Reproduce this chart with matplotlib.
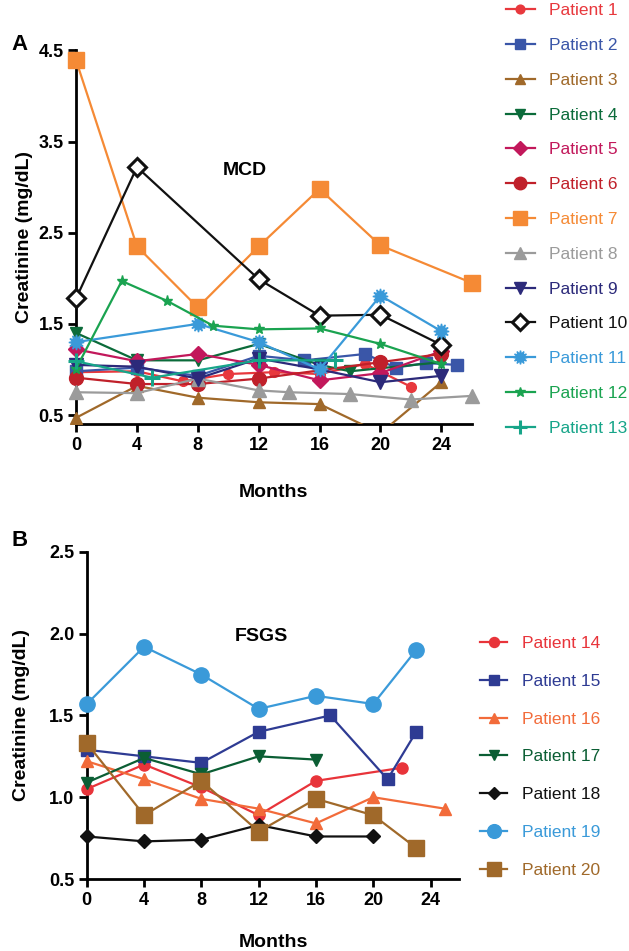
import numpy as np
import matplotlib
matplotlib.use('Agg')
import matplotlib.pyplot as plt
from matplotlib.patches import Rectangle

plt.rcParams['font.family'] = ['Liberation Sans', 'DejaVu Sans']

# ---- panel A (MCD) ----
mcd_names = ['Patient %d' % i for i in range(1, 14)]
mcd_x = [
    [0, 4, 7, 10, 13, 16, 19, 22],
    [0, 4, 8, 12, 15, 19, 21, 23, 25],
    [0, 4, 8, 12, 16, 20, 24],
    [0, 4, 8, 12, 16, 18, 24],
    [0, 4, 8, 12, 16, 20, 24],
    [0, 4, 8, 12, 20, 24],
    [0, 4, 8, 12, 16, 20, 26],
    [0, 4, 8, 12, 14, 18, 22, 26],
    [0, 4, 8, 12, 16, 20, 24],
    [0, 4, 12, 16, 20, 24],
    [0, 8, 12, 16, 20, 24],
    [0, 3, 6, 9, 12, 16, 20, 24],
    [0, 5, 12, 17],
]
mcd_y = [
    [0.97, 0.98, 0.87, 0.95, 0.97, 0.95, 1.06, 0.81],
    [0.98, 1.02, 0.93, 1.15, 1.10, 1.17, 1.02, 1.07, 1.05],
    [0.47, 0.82, 0.69, 0.64, 0.62, 0.30, 0.86],
    [1.40, 1.10, 1.10, 1.28, 1.05, 0.98, 1.08],
    [1.22, 1.09, 1.17, 1.05, 0.88, 0.96, 1.20],
    [0.91, 0.84, 0.84, 0.90, 1.08, 1.17],
    [4.39, 2.35, 1.68, 2.35, 2.98, 2.36, 1.95],
    [0.75, 0.74, 0.90, 0.77, 0.75, 0.73, 0.67, 0.71],
    [1.05, 1.03, 0.90, 1.12, 1.00, 0.86, 0.93],
    [1.78, 3.22, 1.99, 1.59, 1.60, 1.27],
    [1.30, 1.50, 1.30, 1.00, 1.81, 1.42],
    [1.01, 1.97, 1.75, 1.48, 1.44, 1.45, 1.28, 1.06],
    [1.09, 0.91, 1.10, 1.10],
]
mcd_colors = ['#e8383d', '#3a56a8', '#a0692a', '#0b6b3a', '#c2185b', '#c0202a',
              '#f58a35', '#9b9b9b', '#2c2a7a', '#111111', '#3a9ad9', '#1aa350', '#17a589']
mcd_markers = ['o', 's', '^', 'v', 'D', 'o', 's', '^', 'v', 'D', (12, 1, 0), '*', '+']
mcd_msize = [7, 8, 8, 8, 8, 10, 11, 10, 10, 9, 11, 8, 11]

# ---- panel B (FSGS) ----
fsgs_names = ['Patient %d' % i for i in range(14, 21)]
fsgs_x = [
    [0, 4, 8, 12, 16, 22],
    [0, 4, 8, 12, 17, 21, 23],
    [0, 4, 8, 12, 16, 20, 25],
    [0, 4, 8, 12, 16],
    [0, 4, 8, 12, 16, 20],
    [0, 4, 8, 12, 16, 20, 23],
    [0, 4, 8, 12, 16, 20, 23],
]
fsgs_y = [
    [1.05, 1.20, 1.06, 0.89, 1.10, 1.18],
    [1.29, 1.25, 1.21, 1.40, 1.50, 1.11, 1.40],
    [1.22, 1.11, 0.99, 0.93, 0.84, 1.00, 0.93],
    [1.09, 1.24, 1.14, 1.25, 1.23],
    [0.76, 0.73, 0.74, 0.83, 0.76, 0.76],
    [1.57, 1.92, 1.75, 1.54, 1.62, 1.57, 1.90],
    [1.33, 0.89, 1.10, 0.79, 0.99, 0.89, 0.69],
]
fsgs_colors = ['#e8343a', '#2e3b93', '#f26b3a', '#0b5e34', '#111111', '#3a9ad9', '#a0692a']
fsgs_markers = ['o', 's', '^', 'v', 'D', 'o', 's']
fsgs_msize = [8, 8, 8, 8, 7, 11, 11]

fig = plt.figure(figsize=(6.29, 9.51), dpi=100)
axA = fig.add_axes([0.121, 0.554, 0.629, 0.393])
axB = fig.add_axes([0.138, 0.0757, 0.592, 0.344])


def style(ax):
    for s in ['top', 'right']:
        ax.spines[s].set_visible(False)
    for s in ['left', 'bottom']:
        ax.spines[s].set_linewidth(2)
    ax.tick_params(width=2, length=6, labelsize=13, pad=3)
    for lab in ax.get_xticklabels() + ax.get_yticklabels():
        lab.set_fontweight('bold')


handlesA = []
for i in range(len(mcd_names)):
    face = 'white' if i == 9 else mcd_colors[i]
    mew = 2.2 if i in (9, 12) else 1
    ln, = axA.plot(mcd_x[i], mcd_y[i], color=mcd_colors[i], marker=mcd_markers[i],
                   ms=mcd_msize[i], mfc=face, mec=mcd_colors[i], mew=mew, lw=1.6,
                   clip_on=False, zorder=3, label=mcd_names[i])
    if i == 2:
        ln.set_clip_on(True)
        ln.set_clip_path(Rectangle((-2, 0.4), 40, 10, transform=axA.transData))
    handlesA.append(ln)

axA.set_xlim(0, 26)
axA.set_ylim(0.4, 4.5)
axA.set_xticks(np.arange(0, 25, 4))
axA.set_yticks([0.5, 1.5, 2.5, 3.5, 4.5])
axA.set_yticklabels(['0.5', '1.5', '2.5', '3.5', '4.5'])
style(axA)
axA.set_xlabel('Months', fontsize=14, fontweight='bold', labelpad=22)
axA.set_ylabel('Creatinine (mg/dL)', fontsize=14, fontweight='bold', labelpad=4)
axA.text(0.427, 0.68, 'MCD', transform=axA.transAxes, fontsize=14, fontweight='bold',
         ha='center', va='center')

handlesB = []
for i in range(len(fsgs_names)):
    ln, = axB.plot(fsgs_x[i], fsgs_y[i], color=fsgs_colors[i], marker=fsgs_markers[i],
                   ms=fsgs_msize[i], lw=1.6, clip_on=False, zorder=3, label=fsgs_names[i])
    handlesB.append(ln)

axB.set_xlim(0, 26)
axB.set_ylim(0.5, 2.5)
axB.set_xticks(np.arange(0, 25, 4))
axB.set_yticks([0.5, 1.0, 1.5, 2.0, 2.5])
axB.set_yticklabels(['0.5', '1.0', '1.5', '2.0', '2.5'])
style(axB)
axB.set_xlabel('Months', fontsize=14, fontweight='bold', labelpad=18)
axB.set_ylabel('Creatinine (mg/dL)', fontsize=14, fontweight='bold', labelpad=14)
axB.text(0.47, 0.74, 'FSGS', transform=axB.transAxes, fontsize=14, fontweight='bold',
         ha='center', va='center')

fig.legend(handles=handlesA, loc='upper left', bbox_to_anchor=(0.779, 1.013),
           frameon=False, fontsize=12.5, handlelength=1.7, handletextpad=0.8,
           labelspacing=1.13, labelcolor='linecolor', markerscale=0.9)
fig.legend(handles=handlesB, loc='upper left', bbox_to_anchor=(0.739, 0.3475),
           frameon=False, fontsize=12.5, handlelength=1.55, handletextpad=0.85,
           labelspacing=1.30, labelcolor='linecolor', markerscale=0.9)

fig.text(0.018, 0.953, 'A', fontsize=16, fontweight='bold', va='center')
fig.text(0.018, 0.432, 'B', fontsize=16, fontweight='bold', va='center')

fig.savefig('out.png', dpi=100)
plt.close('all')
